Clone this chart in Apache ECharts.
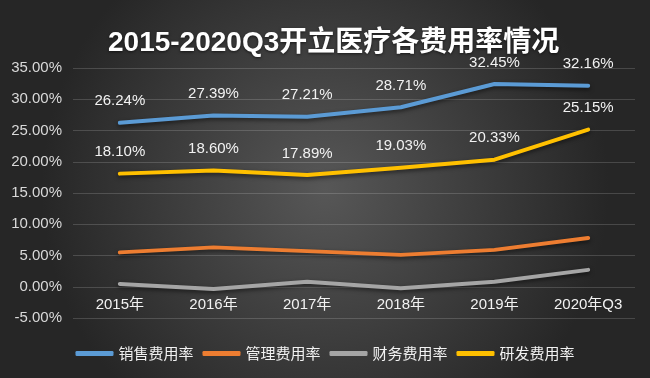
<!DOCTYPE html>
<html>
<head>
<meta charset="utf-8">
<script src="https://cdn.jsdelivr.net/npm/echarts@6/dist/echarts.min.js"></script>
<style>
  html, body { margin: 0; padding: 0; }
  #container { width: 650px; height: 378px; }
</style>
</head>
<body>
<div id="container"></div>
<script>
var years = ['2015年', '2016年', '2017年', '2018年', '2019年', '2020年Q3'];
var salesRate = [26.24, 27.39, 27.21, 28.71, 32.45, 32.16];
var adminRate = [5.5, 6.3, 5.7, 5.1, 5.9, 7.8];
var financeRate = [0.45, -0.35, 0.8, -0.25, 0.8, 2.7];
var rdRate = [18.10, 18.60, 17.89, 19.03, 20.33, 25.15];

var numFont = "'Liberation Sans', 'Noto Sans CJK SC', sans-serif";

function lineSeries(name, data, color, withLabel) {
    return {
        name: name,
        type: 'line',
        data: data,
        symbol: 'circle',
        symbolSize: 2,
        lineStyle: {
            width: 4,
            color: color,
            cap: 'round',
            join: 'round',
            shadowColor: 'rgba(0,0,0,0.55)',
            shadowBlur: 4,
            shadowOffsetY: 2
        },
        itemStyle: { color: color },
        label: {
            show: withLabel,
            position: 'top',
            distance: 13,
            color: '#f2f2f2',
            fontSize: 15,
            fontFamily: numFont,
            formatter: function (p) {
                return p.value.toFixed(2) + '%';
            }
        }
    };
}

var dom = document.getElementById('container');
var myChart = echarts.init(dom);
var option = {
    backgroundColor: {
        type: 'radial',
        x: 0.5, y: 0.5, r: 0.75,
        colorStops: [
            { offset: 0, color: '#575757' },
            { offset: 1, color: '#262626' }
        ]
    },
    animation: false,
    title: {
        text: '2015-2020Q3开立医疗各费用率情况',
        left: 103,
        top: 24,
        textStyle: {
            color: '#ffffff',
            fontSize: 28,
            fontWeight: 'bold',
            fontFamily: "'Liberation Sans', 'Noto Sans CJK SC', sans-serif",
            textShadowColor: 'rgba(0,0,0,0.6)',
            textShadowBlur: 3,
            textShadowOffsetY: 1
        }
    },
    legend: {
        bottom: 12,
        left: 'center',
        icon: 'roundRect',
        itemWidth: 38,
        itemHeight: 5,
        itemGap: 9,
        textStyle: {
            color: '#f2f2f2',
            fontSize: 15,
            fontFamily: "'Noto Sans CJK SC', sans-serif"
        },
        data: ['销售费用率', '管理费用率', '财务费用率', '研发费用率']
    },
    grid: {
        left: 73,
        right: 15,
        top: 68,
        bottom: 60
    },
    xAxis: {
        type: 'category',
        data: years,
        axisLine: { show: false, onZero: false },
        axisTick: { show: false },
        axisLabel: {
            margin: -21,
            color: '#f2f2f2',
            fontSize: 15,
            fontFamily: numFont
        }
    },
    yAxis: {
        type: 'value',
        min: -5,
        max: 35,
        interval: 5,
        axisLine: { show: false },
        axisTick: { show: false },
        axisLabel: {
            margin: 11,
            color: '#d9d9d9',
            fontSize: 15,
            fontFamily: numFont,
            formatter: function (v) {
                return v.toFixed(2) + '%';
            }
        },
        splitLine: {
            lineStyle: { color: 'rgba(255,255,255,0.16)', width: 1 }
        }
    },
    series: [
        lineSeries('销售费用率', salesRate, '#5b9bd5', true),
        lineSeries('管理费用率', adminRate, '#ed7d31', false),
        lineSeries('财务费用率', financeRate, '#a5a5a5', false),
        lineSeries('研发费用率', rdRate, '#ffc000', true)
    ]
};
myChart.setOption(option);
</script>
</body>
</html>
